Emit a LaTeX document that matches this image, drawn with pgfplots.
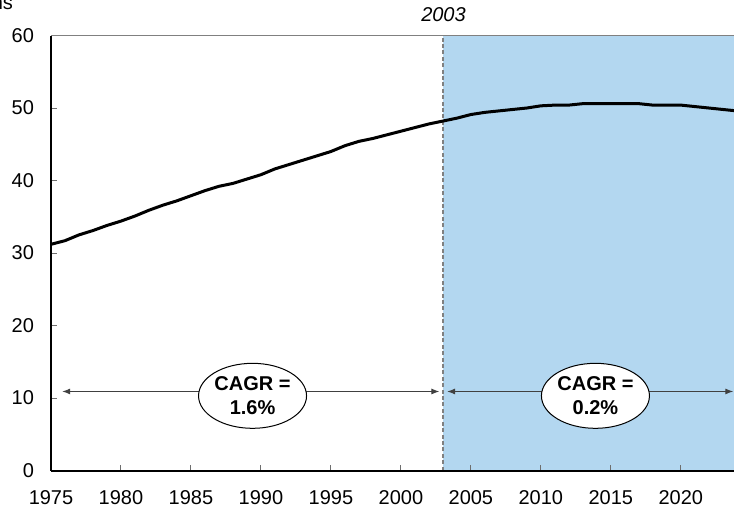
\documentclass[border=0pt]{standalone}
\usepackage{fontspec}
\setmainfont{Liberation Sans}
\usepackage{pgfplots}
\usepackage{pgfplotstable}
\pgfplotsset{compat=1.18}
\usetikzlibrary{shapes.geometric, arrows.meta}

\definecolor{bandblue}{RGB}{179,215,240}
\definecolor{arrowgray}{RGB}{64,64,64}
\definecolor{tickgray}{RGB}{110,110,110}

% population, millions
\pgfplotstableread{
year val
1975 31.2
1976 31.7
1977 32.5
1978 33.1
1979 33.8
1980 34.4
1981 35.1
1982 35.9
1983 36.6
1984 37.2
1985 37.9
1986 38.6
1987 39.2
1988 39.6
1989 40.2
1990 40.8
1991 41.6
1992 42.2
1993 42.8
1994 43.4
1995 44.0
1996 44.8
1997 45.4
1998 45.8
1999 46.3
2000 46.8
2001 47.3
2002 47.8
2003 48.2
2004 48.6
2005 49.1
2006 49.4
2007 49.6
2008 49.8
2009 50.0
2010 50.3
2011 50.4
2012 50.4
2013 50.6
2014 50.6
2015 50.6
2016 50.6
2017 50.6
2018 50.4
2019 50.4
2020 50.4
2021 50.2
2022 50.0
2023 49.8
2024 49.6
}\popdata

\begin{document}
\begin{tikzpicture}[font=\fontsize{10}{12}\selectfont]
\begin{axis}[
    scale only axis,
    width=341.5pt, height=217.5pt,
    xmin=1975, xmax=2023.8,
    ymin=0, ymax=60,
    axis x line*=bottom, axis y line*=left,
    axis line style={line width=1pt, -},
    axis on top,
    xtick={1975,1980,...,2020},
    ytick={0,10,...,60},
    tick align=inside,
    major tick length=3pt,
    major tick style={tickgray, line width=0.5pt},
    /pgf/number format/assume math mode=true,
    /pgf/number format/1000 sep={},
    xticklabel style={yshift=-6.6pt},
    yticklabel style={xshift=-5pt},
    clip=true,
]
    \fill[bandblue] (axis cs:2003,0) rectangle (axis cs:2023.8,60);
    \draw[gray, line width=0.75pt, dash pattern=on 2pt off 1.2pt]
        (axis cs:2003,0) -- (axis cs:2003,60);

    \addplot[black, line width=1.5pt, mark=none] table[x=year, y=val] {\popdata};

    \draw[arrowgray, line width=0.5pt, {Latex[length=4pt,width=3pt]}-{Latex[length=4pt,width=3pt]}]
        (axis cs:1975.8,10.9) -- (axis cs:2002.75,10.9);
    \draw[arrowgray, line width=0.5pt, {Latex[length=4pt,width=3pt]}-{Latex[length=4pt,width=3pt]}]
        (axis cs:2003.3,10.9) -- (axis cs:2023.75,10.9);

    \node[ellipse, draw=black, line width=0.5pt, fill=white, inner sep=0pt,
          minimum width=54pt, minimum height=32.5pt, align=center,
          font=\fontsize{10}{12}\selectfont\bfseries]
        at (axis cs:1989.4,10.3) {CAGR =\\1.6\%};
    \node[ellipse, draw=black, line width=0.5pt, fill=white, inner sep=0pt,
          minimum width=54pt, minimum height=32.5pt, align=center,
          font=\fontsize{10}{12}\selectfont\bfseries]
        at (axis cs:2013.9,10.3) {CAGR =\\0.2\%};
\end{axis}
\draw[gray, line width=0.75pt] (0pt,217.5pt) -- (341.5pt,217.5pt);
\node[font=\fontsize{10}{12}\selectfont\itshape] at (196.25pt,228pt) {2003};
\node[anchor=base east] at (-15.5pt,230.25pt) {Millions};
\pgfresetboundingbox
\useasboundingbox (-25.5pt,-21.75pt) rectangle (341.5pt,235.25pt);
\end{tikzpicture}
\end{document}
